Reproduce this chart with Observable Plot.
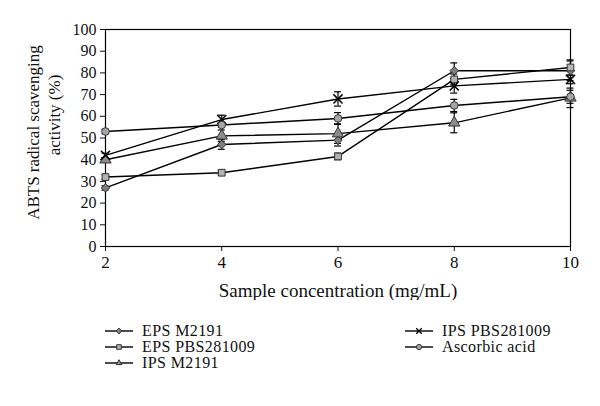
<!DOCTYPE html>
<html><head><meta charset="utf-8">
<script src="https://cdn.jsdelivr.net/npm/d3@7"></script>
<script src="https://cdn.jsdelivr.net/npm/@observablehq/plot@0.6"></script>
<style>
body{margin:0;background:#fff;font-family:"Liberation Serif","DejaVu Serif",serif;}
#wrap{position:relative;width:600px;height:406px;overflow:hidden;}
#chart{position:absolute;left:0;top:0;}
.leg{position:absolute;display:flex;align-items:center;font-size:16px;letter-spacing:0.4px;color:#111;white-space:nowrap;line-height:16px;height:16px;}
.leg svg{margin-right:9px;}
</style></head><body><div id="wrap"><div id="chart"></div></div>
<script>
// ---- data ----
const concentrations = [2, 4, 6, 8, 10];
const seriesNames = ["EPS M2191", "EPS PBS281009", "IPS M2191", "IPS PBS281009", "Ascorbic acid"];
const epsM2191      = [27, 47, 49, 81, 81];
const epsPBS281009  = [32, 34, 41.5, 77, 82.5];
const ipsM2191      = [40, 51, 52, 57, 68.5];
const ipsPBS281009  = [42, 58.5, 68, 74, 77];
const ascorbicAcid  = [53, 56, 59, 65, 69];
const errEpsM2191     = [1, 2.2, 2.7, 3.6, 4.5];
const errEpsPBS281009 = [1, 1, 1.5, 2.5, 3.5];
const errIpsM2191     = [1, 2.7, 4.5, 4.6, 4.5];
const errIpsPBS281009 = [1, 2, 3.3, 3.3, 2];
const errAscorbicAcid = [1, 1, 2.7, 2.8, 3];
const yTicks = [0, 10, 20, 30, 40, 50, 60, 70, 80, 90, 100];
const xTicks = [2, 4, 6, 8, 10];

// ---- styles (separate from data) ----
const styles = {
  "EPS M2191":     {symbol: "diamond2", fill: "#7f7f7f"},
  "EPS PBS281009": {symbol: "square",   fill: "#b3b3b3"},
  "IPS M2191":     {symbol: "triangle", fill: "#8c8c8c"},
  "IPS PBS281009": {symbol: "times",    fill: "none"},
  "Ascorbic acid": {symbol: "circle",   fill: "#a6a6a6"}
};

const valueArrays = [epsM2191, epsPBS281009, ipsM2191, ipsPBS281009, ascorbicAcid];
const errorArrays = [errEpsM2191, errEpsPBS281009, errIpsM2191, errIpsPBS281009, errAscorbicAcid];

const rows = [];
seriesNames.forEach((name, i) => {
  concentrations.forEach((c, j) => {
    rows.push({series: name, x: c, y: valueArrays[i][j], e: errorArrays[i][j]});
  });
});

const capHalf = 0.06; // in data units of x
const font = "Liberation Serif, DejaVu Serif, serif";

const marks = [
  Plot.frame({stroke: "#000", strokeWidth: 1.2}),
  Plot.axisY({ticks: yTicks, tickSize: 5, tickPadding: 4, fontSize: 16, label: null, tickFormat: d => d}),
  Plot.axisX({ticks: xTicks, tickSize: 5, tickPadding: 4, fontSize: 17, label: null, tickFormat: d => d}),
  Plot.line(rows, {x: "x", y: "y", z: "series", stroke: "#000", strokeWidth: 1.4}),
  Plot.ruleX(rows, {x: "x", y1: d => d.y - d.e, y2: d => d.y + d.e, stroke: "#000", strokeWidth: 1.2}),
  Plot.ruleY(rows, {y: d => d.y - d.e, x1: d => d.x - capHalf, x2: d => d.x + capHalf, stroke: "#000", strokeWidth: 1.2}),
  Plot.ruleY(rows, {y: d => d.y + d.e, x1: d => d.x - capHalf, x2: d => d.x + capHalf, stroke: "#000", strokeWidth: 1.2})
];
seriesNames.forEach(name => {
  const st = styles[name];
  const pts = rows.filter(d => d.series === name);
  if (st.symbol === "times") {
    marks.push(Plot.dot(pts, {x: "x", y: "y", symbol: "times", r: 4.2, stroke: "#000", strokeWidth: 1.5}));
  } else {
    marks.push(Plot.dot(pts, {x: "x", y: "y", symbol: st.symbol, r: st.symbol === "triangle" ? 4.2 : 3.8, fill: st.fill, stroke: "#333", strokeWidth: 1}));
  }
});
marks.push(Plot.text(["Sample concentration (mg/mL)"], {frameAnchor: "bottom", dy: 50, fontSize: 19, fill: "#111", textAnchor: "middle"}));
marks.push(Plot.text(["ABTS radical scavenging"], {frameAnchor: "left", rotate: -90, dx: -72, dy: -5.5, fontSize: 17, fill: "#111", textAnchor: "middle"}));
marks.push(Plot.text(["activity (%)"], {frameAnchor: "left", rotate: -90, dx: -51, dy: -23, fontSize: 17, fill: "#111", textAnchor: "middle"}));

const chart = Plot.plot({
  width: 600,
  height: 300,
  marginTop: 29,
  marginBottom: 54,
  marginLeft: 105,
  marginRight: 30,
  style: {fontFamily: font, color: "#111", background: "#fff"},
  x: {domain: [2, 10]},
  y: {domain: [0, 100]},
  marks
});
document.getElementById("chart").appendChild(chart);

// ---- legend ----
const legendPos = [
  {left: 105, top: 323}, {left: 105, top: 339}, {left: 105, top: 355},
  {left: 405, top: 323}, {left: 405, top: 339}
];
const symMap = {diamond2: d3.symbolDiamond2, square: d3.symbolSquare, triangle: d3.symbolTriangle, times: d3.symbolTimes, circle: d3.symbolCircle};
const wrap = document.getElementById("wrap");
seriesNames.forEach((name, i) => {
  const st = styles[name];
  const div = document.createElement("div");
  div.className = "leg";
  div.style.left = legendPos[i].left + "px";
  div.style.top = legendPos[i].top + "px";
  const r = st.symbol === "triangle" ? 2.1 : 2.6;
  const path = d3.symbol(symMap[st.symbol], r * r * Math.PI)();
  const symEl = st.symbol === "times"
    ? `<path d="${path}" transform="translate(14,8)" fill="none" stroke="#000" stroke-width="1.3"/>`
    : `<path d="${path}" transform="translate(14,8)" fill="${st.fill}" stroke="#333" stroke-width="1"/>`;
  div.innerHTML = `<svg width="28" height="16"><line x1="0" x2="28" y1="8" y2="8" stroke="#000" stroke-width="1.4"/>${symEl}</svg><span>${name}</span>`;
  wrap.appendChild(div);
});
</script>
</body></html>
